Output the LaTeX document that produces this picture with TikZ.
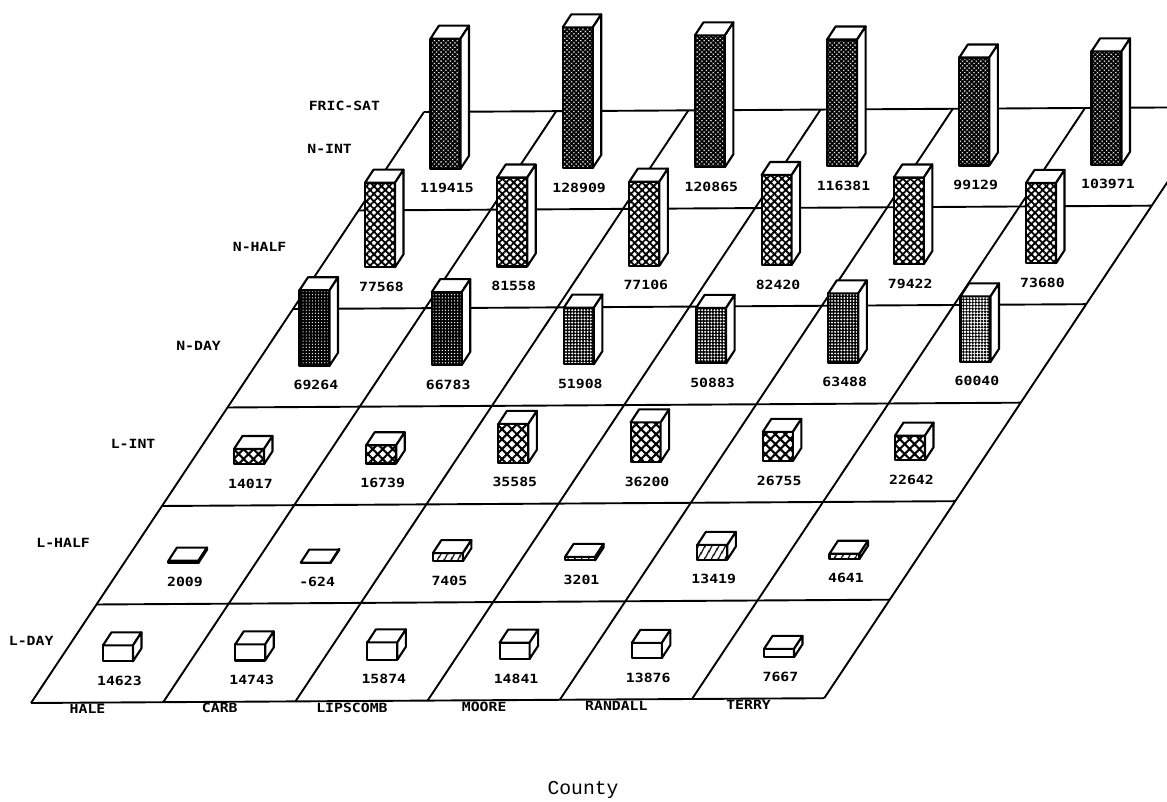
\documentclass[tikz,border=0pt]{standalone}
\usepackage{fontspec}
\newfontfamily\plotfont[FakeStretch=1.17]{DejaVu Sans Mono}
\newfontfamily\capfont{Liberation Mono}
\usetikzlibrary{patterns.meta}
\tikzset{
  grd/.style={line width=1.35pt},
  box/.style={line width=1.5pt, line join=round},
  vlab/.style={font=\plotfont\bfseries\fontsize{9}{10}\selectfont, inner sep=0pt},
  rlab/.style={vlab, anchor=east},
  nint/.style={preaction={fill=white}, pattern={Hatch[angle=45,distance=2.3pt,line width=1.3pt]}},
  nhalf/.style={preaction={fill=white}, pattern={Hatch[angle=45,distance=3.8pt,line width=1.3pt]}},
  nday/.style={preaction={fill=black}, pattern={Dots[distance=2.2pt,radius=#1]}, pattern color=white},
  lint/.style={preaction={fill=white}, pattern={Hatch[angle=45,distance=5pt,line width=1.5pt]}},
  lhalf/.style={preaction={fill=white}, pattern={Lines[angle=60,distance=4pt,line width=1.1pt]}},
  lday/.style={fill=white}
}
% box at cell (#1,#2), value #3, front face style #4
\newcommand{\blk}[4]{%
  \edef\hh{\fpeval{#3*0.0002725}mm}%
  \coordinate (p) at (#1+0.45,#2+0.42);
  \path (p) ++(-3.75mm,0pt) coordinate (fl) ++(7.5mm,0pt) coordinate (fr) ++(0pt,\hh) coordinate (tr) ++(-7.5mm,0pt) coordinate (tl);
  \draw[box,#4] (fl) rectangle (tr);
  \draw[box,fill=white] (tl) -- (tr) -- ++(2.125mm,3.25mm) -- ++(-7.5mm,0pt) -- cycle;
  \draw[box,fill=white] (fr) -- ++(2.125mm,3.25mm) -- ++(0pt,\hh) -- (tr) -- cycle;
  \node[vlab] (v#1#2) at (#1+0.56,#2+0.22) {#3};}

\begin{document}
\begin{tikzpicture}[x=0.25mm, y=0.25mm]
  \useasboundingbox (0,0) rectangle (1167,802);
  \clip (0,0) rectangle (1167,802);
  \begin{scope}[shift={(31,99)}, x={(33.05mm,0.2mm)}, y={(16.375mm,24.625mm)}]
    \foreach \k in {0,...,6} {\draw[grd] (0,\k) -- (6,\k); \draw[grd] (\k,0) -- (\k,6);}
    % row and column names
    \node[rlab] (fsat) at (-0.36,6.06) {FRIC-SAT};
    \node[rlab] (nin) at (-0.36,5.63) {N-INT};
    \node[rlab] (nhf) at (-0.36,4.63) {N-HALF};
    \node[rlab] (ndy) at (-0.36,3.63) {N-DAY};
    \node[rlab] (lin) at (-0.36,2.63) {L-INT};
    \node[rlab] (lhf) at (-0.36,1.63) {L-HALF};
    \node[rlab] (ldy) at (-0.14,0.63) {L-DAY};
    \foreach \t [count=\i from 0] in {HALE,CARB,LIPSCOMB,MOORE,RANDALL,TERRY}
      \node[vlab] (c\i) at (\i+0.46,-0.065) {\t};
    % boxes, back row first
    \blk05{119415}{nint} \blk15{128909}{nint} \blk25{120865}{nint} \blk35{116381}{nint} \blk45{99129}{nint} \blk55{103971}{nint}
    \blk04{77568}{nhalf} \blk14{81558}{nhalf} \blk24{77106}{nhalf} \blk34{82420}{nhalf} \blk44{79422}{nhalf} \blk54{73680}{nhalf}
    \blk03{69264}{nday=0.45pt} \blk13{66783}{nday=0.5pt} \blk23{51908}{nday=0.8pt} \blk33{50883}{nday=0.8pt} \blk43{63488}{nday=0.75pt} \blk53{60040}{nday=1pt}
    \blk02{14017}{lint} \blk12{16739}{lint} \blk22{35585}{lint} \blk32{36200}{lint} \blk42{26755}{lint} \blk52{22642}{lint}
    \blk01{2009}{lhalf} \blk11{-624}{lhalf} \blk21{7405}{lhalf} \blk31{3201}{lhalf} \blk41{13419}{lhalf} \blk51{4641}{lhalf}
    \blk00{14623}{lday} \blk10{14743}{lday} \blk20{15874}{lday} \blk30{14841}{lday} \blk40{13876}{lday} \blk50{7667}{lday}
  \end{scope}
  \node[font=\capfont\fontsize{14}{15}\selectfont, anchor=base] (cty) at (583,7) {County};
\end{tikzpicture}
\end{document}
